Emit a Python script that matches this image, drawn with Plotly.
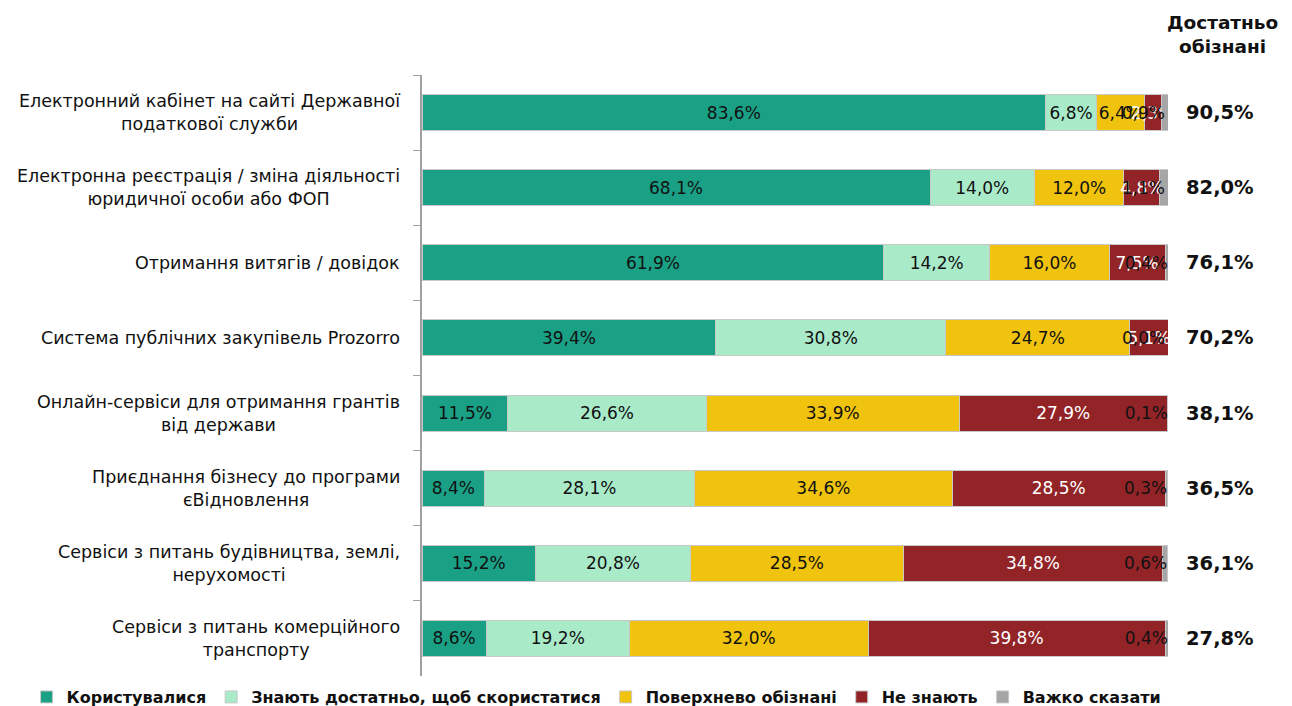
import plotly.graph_objects as go

categories = [
    "Електронний кабінет на сайті Державної<br>податкової служби",
    "Електронна реєстрація / зміна діяльності<br>юридичної особи або ФОП",
    "Отримання витягів / довідок",
    "Система публічних закупівель Prozorro",
    "Онлайн-сервіси для отримання грантів<br>від держави",
    "Приєднання бізнесу до програми<br>єВідновлення",
    "Сервіси з питань будівництва, землі,<br>нерухомості",
    "Сервіси з питань комерційного<br>транспорту",
]
used = [83.6, 68.1, 61.9, 39.4, 11.5, 8.4, 15.2, 8.6]
know_enough = [6.8, 14.0, 14.2, 30.8, 26.6, 28.1, 20.8, 19.2]
superficial = [6.4, 12.0, 16.0, 24.7, 33.9, 34.6, 28.5, 32.0]
dont_know = [2.3, 4.8, 7.5, 5.1, 27.9, 28.5, 34.8, 39.8]
hard_to_say = [0.9, 1.1, 0.4, 0.0, 0.1, 0.3, 0.6, 0.4]
aware_total = [90.5, 82.0, 76.1, 70.2, 38.1, 36.5, 36.1, 27.8]

series_names = ["Користувалися", "Знають достатньо, щоб скористатися",
                "Поверхнево обізнані", "Не знають", "Важко сказати"]
series_values = [used, know_enough, superficial, dont_know, hard_to_say]
series_colors = ["#1AA085", "#A9EAC9", "#F0C30F", "#922428", "#A6A6A6"]
text_colors = ["#111111", "#111111", "#111111", "#FFFFFF", "#111111"]
text_anchors = ["middle", "middle", "middle", "middle", "end"]

header = "Достатньо<br>обізнані"

FONT = "DejaVu Sans"
ids = [f"c{i}" for i in range(len(categories))]


def pct(v):
    return f"{v:.1f}%".replace(".", ",")


fig = go.Figure()
for name, vals, col, tcol, anc in zip(series_names, series_values, series_colors,
                                      text_colors, text_anchors):
    fig.add_trace(go.Bar(
        y=ids, x=vals, orientation="h", name=f"<b>{name}</b>",
        marker=dict(color=col, line=dict(color="#C8C8C8", width=1)),
        text=[pct(v) for v in vals],
        textposition="inside", insidetextanchor=anc, textangle=0,
        constraintext="none", cliponaxis=False,
        textfont=dict(family=FONT, size=17, color=tcol),
        hoverinfo="skip",
    ))

# zero-width bar label (row with 0,0%)
base = [u + k + s + d for u, k, s, d in zip(used, know_enough, superficial, dont_know)]
for i, v in enumerate(hard_to_say):
    if v == 0:
        fig.add_annotation(x=base[i], y=ids[i], xref="x", yref="y", xanchor="right",
                           xshift=-1, text=pct(v), showarrow=False,
                           font=dict(family=FONT, size=17, color="#111111"))

for i, cat in enumerate(categories):
    fig.add_annotation(x=0, xref="paper", y=ids[i], yref="y", xshift=-20,
                       xanchor="right", align="center", text=cat, showarrow=False,
                       font=dict(family=FONT, size=17.5, color="#111111"))
    fig.add_annotation(x=1, xref="paper", y=ids[i], yref="y", xshift=52,
                       xanchor="center", text=f"<b>{pct(aware_total[i])}</b>",
                       showarrow=False, font=dict(family=FONT, size=19.5, color="#111111"))

fig.add_annotation(x=1, xref="paper", y=1, yref="paper", yshift=41, xshift=54,
                   xanchor="center", yanchor="middle", text=f"<b>{header}</b>",
                   showarrow=False, font=dict(family=FONT, size=18.5, color="#111111"))

fig.update_layout(
    width=1284, height=698,
    margin=dict(l=414, r=124, t=67, b=30, autoexpand=False),
    barmode="stack", bargap=0.52,
    paper_bgcolor="white", plot_bgcolor="white",
    font=dict(family=FONT, size=15, color="#111111"),
    showlegend=True,
    legend=dict(orientation="h", x=-0.53, xanchor="left", y=-0.035, yanchor="middle",
                font=dict(family=FONT, size=16, color="#111111"),
                traceorder="normal", itemwidth=30),
    xaxis=dict(range=[0, 100], visible=False, fixedrange=True),
    yaxis=dict(categoryorder="array", categoryarray=ids, autorange="reversed",
               showticklabels=False, ticks="outside", tickson="boundaries",
               ticklen=7, tickcolor="#A0A0A0", showline=True, linecolor="#A0A0A0",
               linewidth=2, showgrid=False, zeroline=False),
)

fig.write_html("out.html")
